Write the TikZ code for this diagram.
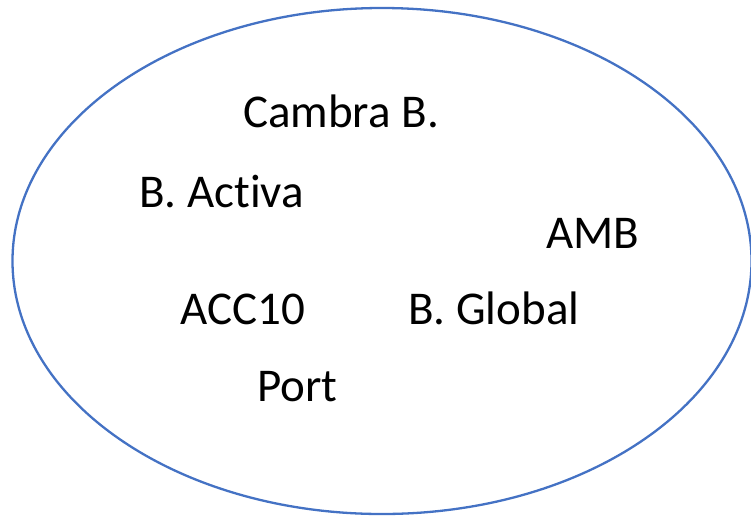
\documentclass[tikz,border=0pt]{standalone}
\usepackage{fontspec}
\setmainfont{Carlito}[Ligatures={NoCommon,NoDiscretionary}]
\definecolor{ellblue}{HTML}{4472C4}
\begin{document}
\begin{tikzpicture}[x=1pt,y=-1pt,
  lbl/.style={inner sep=0pt,anchor=base west,font=\fontsize{47}{51}\selectfont,text=black}]
\useasboundingbox (0,0) rectangle (751,515);
\draw[ellblue,line width=2.3pt] (382,261) ellipse [x radius=369.5, y radius=253];
\node[lbl] (cambra) at (243,127) {Cambra B.};
\node[lbl] (activa) at (139,207) {B. Activa};
\node[lbl] (amb) at (546,248) {AMB};
\node[lbl] (acc) at (180,324) {ACC10};
\node[lbl] (global) at (408,324) {B. Global};
\node[lbl] (port) at (257,401) {Port};
\end{tikzpicture}
\end{document}
